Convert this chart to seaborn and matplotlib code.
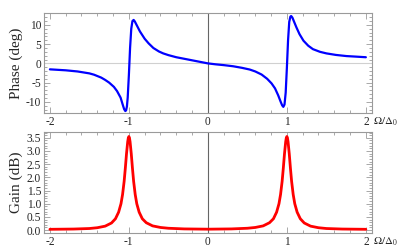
import matplotlib
matplotlib.use("Agg")
import matplotlib.pyplot as plt
import seaborn as sns
from matplotlib.ticker import MultipleLocator

# ---------- Data ----------
phase_x = [-2.0, -1.8, -1.65, -1.5, -1.44, -1.35, -1.3, -1.25, -1.19, -1.15,
           -1.105, -1.08, -1.06, -1.045, -1.035, -1.025, -1.015, -1.0, -0.985,
           -0.97, -0.955, -0.94, -0.925, -0.9, -0.86, -0.8, -0.75, -0.69, -0.62,
           -0.566, -0.5, -0.4, -0.3, -0.2, -0.1, 0.0, 0.1, 0.2, 0.32, 0.43, 0.53,
           0.6, 0.68, 0.75, 0.806, 0.85, 0.89, 0.92, 0.94, 0.955, 0.97, 0.985,
           1.0, 1.015, 1.03, 1.045, 1.055, 1.07, 1.09, 1.12, 1.16, 1.21, 1.27,
           1.33, 1.42, 1.5, 1.62, 1.755, 1.88, 2.0]
phase_deg = [-1.55, -1.8, -2.1, -2.6, -2.95, -3.7, -4.3, -5.0, -6.1, -7.2,
             -8.9, -10.6, -11.9, -12.4, -12.2, -11.2, -8.9, -3.0, 4.0,
             9.0, 11.0, 11.3, 10.9, 9.9, 8.3, 6.4, 5.2, 4.0, 3.1,
             2.6, 2.15, 1.6, 1.2, 0.8, 0.4, 0.0, -0.25, -0.45, -0.75, -1.15, -1.6,
             -2.1, -2.9, -4.0, -5.2, -6.5, -8.3, -9.9, -10.9, -11.3, -10.7, -7.6,
             -1.2, 6.0, 10.8, 12.2, 12.3, 11.9, 10.9, 9.4, 7.6, 5.9, 4.6,
             3.7, 3.0, 2.6, 2.2, 1.9, 1.75, 1.6]

gain_x = [-2.0, -1.7, -1.5, -1.4, -1.3, -1.22, -1.17, -1.13, -1.1, -1.08,
          -1.06, -1.045, -1.03, -1.015, -1.007, -1.0, -0.993, -0.985, -0.97,
          -0.955, -0.94, -0.92, -0.9, -0.87, -0.83, -0.78, -0.7, -0.6, -0.5,
          -0.3, 0.0, 0.3, 0.5, 0.6, 0.7, 0.78, 0.83, 0.87, 0.9, 0.92, 0.94,
          0.955, 0.97, 0.985, 0.993, 1.0, 1.007, 1.015, 1.03, 1.045, 1.06,
          1.08, 1.1, 1.13, 1.17, 1.22, 1.3, 1.4, 1.5, 1.7, 2.0]
gain_db = [0.03, 0.04, 0.06, 0.09, 0.15, 0.27, 0.43, 0.68, 1.0, 1.35,
           1.85, 2.35, 2.9, 3.35, 3.5, 3.55, 3.5, 3.35, 2.9,
           2.35, 1.85, 1.35, 1.0, 0.68, 0.43, 0.28, 0.16, 0.1, 0.07,
           0.045, 0.035, 0.045, 0.07, 0.1, 0.16, 0.28, 0.43, 0.68, 1.0, 1.35, 1.85,
           2.35, 2.9, 3.35, 3.5, 3.55, 3.5, 3.35, 2.9, 2.35, 1.85,
           1.35, 1.0, 0.68, 0.43, 0.27, 0.15, 0.09, 0.06, 0.04, 0.03]

x_ticks = [-2, -1, 0, 1, 2]
phase_ticks = [-10, -5, 0, 5, 10]
gain_ticks = [0.0, 0.5, 1.0, 1.5, 2.0, 2.5, 3.0, 3.5]

# ---------- Style ----------
sns.set_style("ticks")
plt.rcParams["font.family"] = ["Liberation Serif", "DejaVu Serif"]
plt.rcParams["mathtext.fontset"] = "stix"
plt.rcParams["axes.unicode_minus"] = False

frame_col = "#9a9a9a"

fig = plt.figure(figsize=(3.99, 2.5), dpi=100)
ax1 = fig.add_axes([0.110, 0.548, 0.822, 0.400])
ax2 = fig.add_axes([0.110, 0.068, 0.822, 0.404])

# ---------- Phase ----------
ax1.axhline(0, color="#d0d0d0", lw=0.8, zorder=1)
ax1.axvline(0, color="#666666", lw=0.8, zorder=1)
sns.lineplot(x=phase_x, y=phase_deg, ax=ax1, color="#0000ff", lw=1.6, zorder=3)
ax1.set_xlim(-2.076, 2.076)
ax1.set_ylim(-12.9, 13.1)
ax1.set_yticks(phase_ticks)
ax1.yaxis.set_minor_locator(MultipleLocator(1))
ax1.set_ylabel("Phase (deg)", fontsize=11)

# ---------- Gain ----------
ax2.axvline(0, color="#666666", lw=0.8, zorder=1)
sns.lineplot(x=gain_x, y=gain_db, ax=ax2, color="#ff0000", lw=2.0, zorder=3)
ax2.set_xlim(-2.076, 2.076)
ax2.set_ylim(-0.11, 3.72)
ax2.set_yticks(gain_ticks)
ax2.set_yticklabels([f"{t:.1f}" for t in gain_ticks])
ax2.yaxis.set_minor_locator(MultipleLocator(0.1))
ax2.set_ylabel("Gain (dB)", fontsize=11)

for ax in (ax1, ax2):
    ax.set_xticks(x_ticks)
    ax.xaxis.set_minor_locator(MultipleLocator(0.2))
    for sp in ax.spines.values():
        sp.set_visible(True)
        sp.set_color(frame_col)
        sp.set_linewidth(0.8)
    ax.tick_params(which="both", direction="in", top=True, right=True,
                   color=frame_col, width=0.6, labelsize=8.3, pad=2)
    ax.tick_params(which="major", length=4)
    ax.tick_params(which="minor", length=2)
    ax.yaxis.set_label_coords(-0.064, 0.5)
    ax.annotate(r"$\Omega/\Delta_0$", xy=(1, 0), xycoords="axes fraction",
                xytext=(1, -6.5), textcoords="offset points",
                ha="left", va="center", fontsize=7.8)

fig.savefig("out.png", dpi=100)
